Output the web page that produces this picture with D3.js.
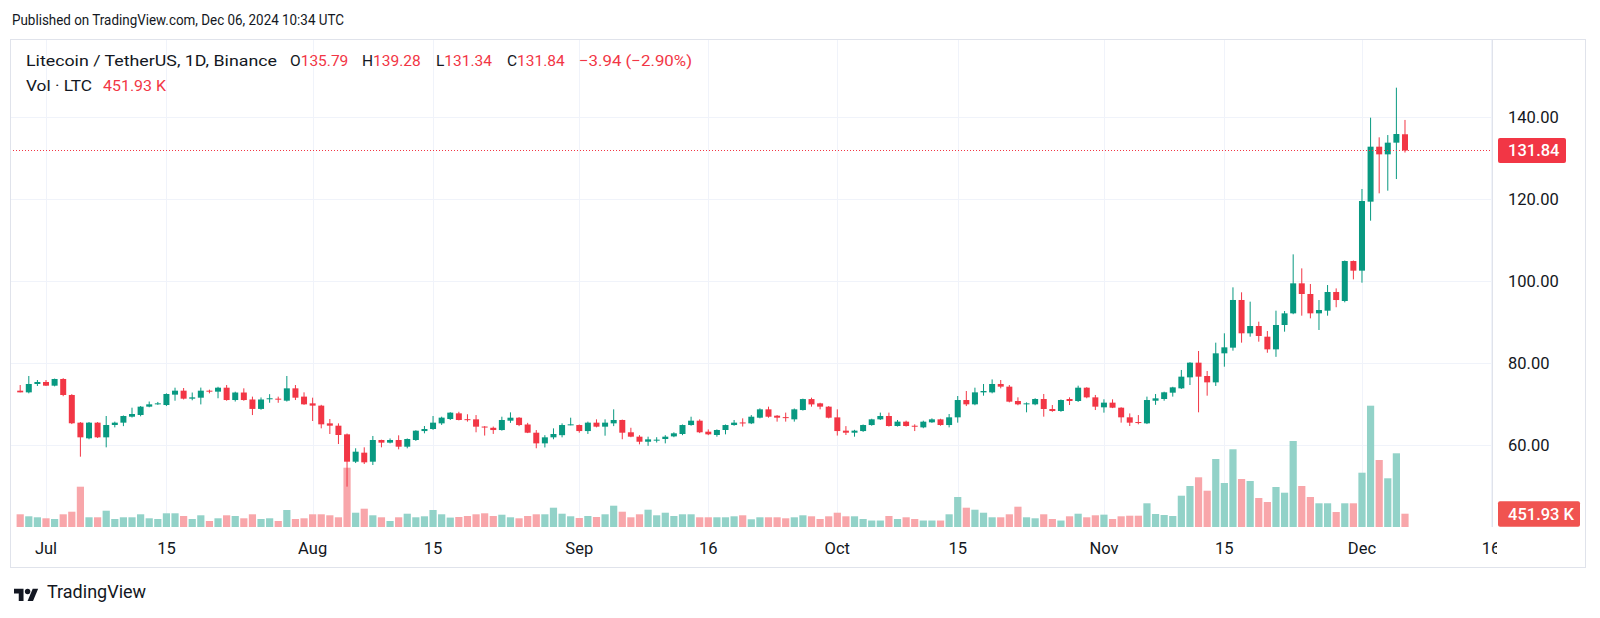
<!DOCTYPE html>
<html><head><meta charset="utf-8">
<script src="https://cdn.jsdelivr.net/npm/d3@7"></script>
<style>
body{margin:0;background:#fff;}
svg{display:block;font-family:Roboto,"Noto Sans",sans-serif;}
</style>
</head><body>
<svg id="chart" width="1600" height="618"></svg>
<script>
// ---- data (daily candles Jun 28 2024 .. Dec 06 2024) ----
const firstDay = "2024-06-28";
const lastDay = "2024-12-06";
const open = [
73.25,72.84,74.88,75.37,74.47,76.10,72.20,65.45,61.63,65.45,
61.87,64.88,65.45,66.90,67.32,69.35,69.95,69.75,72.28,73.25,
71.30,71.54,73.25,73.01,73.98,70.97,72.80,71.10,68.80,71.30,
71.30,70.81,73.82,71.80,70.16,69.60,65.28,64.71,62.60,55.93,
58.13,55.93,61.22,60.57,61.22,59.59,61.22,63.40,63.90,65.28,
66.34,67.72,66.30,66.26,64.50,64.20,63.65,65.93,66.66,65.00,
63.00,60.40,61.87,62.40,64.87,64.87,63.40,65.45,64.47,65.28,
66.10,63.10,62.03,60.80,61.20,61.46,62.10,62.68,64.87,65.93,
63.25,62.44,63.66,64.87,65.50,65.28,66.66,68.70,67.15,66.80,
66.26,68.53,71.20,70.16,69.35,66.74,63.50,63.00,63.40,64.87,
66.26,67.07,64.63,65.69,64.70,64.30,65.53,66.26,64.87,66.75,
70.97,69.92,72.84,72.84,74.88,74.23,70.73,70.00,69.92,71.22,
68.78,68.29,71.22,70.73,73.98,71.62,69.19,70.33,69.10,66.75,
65.60,65.28,70.80,71.22,72.76,73.82,76.50,80.08,76.83,75.28,
82.36,83.74,95.37,87.24,89.02,86.42,83.33,89.27,92.11,99.43,
96.83,92.11,92.76,97.32,95.12,104.87,102.52,119.35,132.76,130.89,
133.74,135.79];
const high = [
74.63,76.83,75.85,75.85,76.20,76.30,72.40,65.60,65.60,65.60,
67.07,65.70,67.20,69.10,69.50,70.60,70.50,72.60,73.98,73.90,
72.80,74.00,73.50,74.20,74.63,73.00,73.82,71.80,71.60,72.40,
71.80,76.83,74.63,72.84,71.54,69.80,66.34,65.28,62.80,59.20,
59.43,62.20,61.30,61.60,62.36,61.60,63.60,64.63,67.07,66.90,
68.00,68.10,67.50,67.30,64.60,64.50,66.90,67.96,66.80,65.40,
63.65,62.40,64.06,65.28,66.66,65.00,65.70,66.26,66.26,68.70,
66.20,64.20,62.40,62.03,61.90,62.40,63.10,65.00,66.90,66.26,
63.80,63.80,65.00,66.10,66.50,67.30,68.94,69.35,67.30,67.90,
68.90,71.30,71.54,70.30,69.50,68.70,64.60,63.70,65.00,66.40,
67.90,67.90,66.10,65.93,65.04,65.93,66.50,66.40,67.56,71.95,
73.17,73.98,74.88,76.00,75.85,74.63,71.62,70.40,71.40,72.44,
69.75,71.10,71.62,74.47,74.10,72.20,71.14,71.14,69.20,67.70,
67.30,71.80,72.44,73.00,74.20,78.30,80.20,82.93,78.05,84.96,
87.24,98.45,97.24,94.96,90.08,87.80,92.76,92.68,106.50,103.08,
99.27,95.36,99.02,98.20,105.00,105.00,122.44,139.83,135.04,135.60,
147.15,139.28];
const low = [
72.84,72.60,74.40,74.40,74.30,71.90,65.10,57.15,61.40,61.70,
59.43,64.30,64.60,66.70,67.00,69.20,69.80,69.50,70.80,71.10,
70.90,69.90,72.60,71.40,70.80,70.60,70.80,67.30,68.60,70.30,
70.30,70.60,70.97,69.80,65.85,64.06,62.68,60.24,49.84,55.60,
55.36,55.12,59.43,60.40,58.94,59.19,61.00,62.85,63.70,64.90,
66.10,66.00,65.70,63.10,62.30,62.70,63.50,65.40,64.60,62.90,
59.20,59.40,61.40,61.87,64.80,63.00,62.70,64.30,62.27,64.60,
61.40,61.90,60.16,59.80,60.60,60.40,61.90,62.40,64.70,62.90,
62.40,62.03,62.60,64.70,64.50,65.10,66.50,66.66,65.70,65.70,
65.70,68.40,69.35,68.70,66.50,62.30,62.44,62.03,63.20,64.70,
66.10,64.50,64.50,64.50,63.40,64.10,65.40,64.70,64.30,65.45,
69.50,69.70,72.03,72.60,73.82,70.40,69.70,67.97,69.70,66.91,
68.10,68.10,69.75,70.50,71.40,68.53,67.89,69.00,65.45,64.63,
65.04,65.10,69.80,70.80,71.80,73.66,74.63,67.97,72.03,74.40,
79.10,83.00,84.96,86.42,85.20,82.50,81.50,87.64,91.90,91.54,
90.89,88.05,91.54,93.60,94.80,100.40,99.59,114.71,121.38,122.03,
124.87,131.34];
const close = [
72.84,74.88,75.37,74.47,76.10,72.20,65.30,61.87,65.45,61.87,
64.88,65.45,67.07,67.56,69.35,69.92,70.16,72.44,73.25,71.30,
71.62,73.25,73.01,73.98,70.97,72.80,70.97,68.80,71.10,71.40,
71.10,73.82,71.54,69.92,69.60,65.04,64.71,62.44,55.93,58.37,
55.77,61.22,60.57,61.22,59.59,61.46,63.49,63.90,65.45,66.67,
67.89,66.10,66.20,64.47,64.40,63.65,66.10,66.66,64.87,63.00,
60.40,61.87,62.68,64.87,65.04,63.40,65.45,64.47,65.45,66.10,
63.00,62.03,60.80,61.38,61.30,62.03,62.85,64.87,65.93,63.10,
62.60,63.66,64.87,65.45,65.40,66.90,68.70,66.90,66.66,66.74,
68.70,71.20,69.90,69.35,66.66,63.40,63.00,63.50,64.87,66.26,
67.07,64.63,65.70,64.63,64.60,65.69,66.26,64.87,66.75,70.97,
69.92,72.84,73.17,74.88,74.23,70.57,69.92,70.16,71.22,68.78,
68.29,70.97,70.73,73.98,71.62,69.35,70.33,69.10,66.75,65.45,
65.50,70.97,71.38,72.85,74.06,76.67,80.08,76.67,75.28,82.36,
83.82,95.37,87.24,89.02,86.59,83.33,89.27,92.11,99.43,96.83,
92.11,92.92,97.32,95.36,104.87,102.52,119.51,132.76,130.89,133.74,
135.85,131.84];
const volumeK = [
432,364,330,296,272,432,520,1370,330,330,
554,272,330,330,432,296,272,466,466,374,
272,398,204,296,398,374,296,432,272,296,
204,578,272,296,432,432,398,330,2016,486,
622,398,330,204,330,452,330,364,578,432,
320,340,374,432,466,374,418,330,296,374,
432,432,656,452,364,306,374,340,432,724,
520,330,432,588,398,486,374,432,432,330,
330,330,330,364,398,262,330,330,330,296,
330,398,364,272,364,486,364,364,272,220,
220,374,272,330,272,220,220,220,432,1020,
656,588,486,330,330,432,690,330,296,432,
272,220,364,452,330,398,420,272,364,384,
384,806,442,408,374,1064,1394,1690,1234,2312,
1496,2642,1632,1564,986,850,1360,1166,2924,1394,
1020,806,806,510,806,806,1846,4124,2278,1656,
2506,451.93];
const priceTicks = [60, 80, 100, 120, 140];
const timeTickDates = ["2024-07-01","2024-07-15","2024-08-01","2024-08-15","2024-09-01","2024-09-16",
                       "2024-10-01","2024-10-15","2024-11-01","2024-11-15","2024-12-01","2024-12-16"];
const timeTickLabels = ["Jul","15","Aug","15","Sep","16","Oct","15","Nov","15","Dec","16"];
const lastPrice = 131.84;
const lastVolumeLabel = "451.93 K";

// ---- layout ----
const W = 1600, H = 618;
const panel = {left: 10, top: 39, right: 1585, bottom: 567};
const plotRight = 1492, plotBottom = 527;
const GREEN = "#089981", RED = "#F23645", TXT = "#131722";
const VGREEN = "#92d2c8", VRED = "#f8a6aa";
const AXF = 16.5;

const parse = d3.utcParse("%Y-%m-%d");
const days = d3.utcDay.range(parse(firstDay), d3.utcDay.offset(parse(lastDay), 1));
const data = days.map((d, i) => ({date: d, o: open[i], h: high[i], l: low[i], c: close[i], v: volumeK[i]}));

const x = d3.scaleUtc().domain([parse("2024-07-01"), parse("2024-12-16")]).range([46, 1491]);
const y = d3.scaleLinear().domain([60, 140]).range([445, 117]);
const yv = d3.scaleLinear().domain([0, d3.max(volumeK)]).range([plotBottom, plotBottom - 121.3]);

const svg = d3.select("#chart");
svg.append("rect").attr("width", W).attr("height", H).attr("fill", "#fff");

// panel frame
svg.append("rect").attr("x", panel.left + 0.5).attr("y", panel.top + 0.5)
  .attr("width", panel.right - panel.left).attr("height", panel.bottom - panel.top)
  .attr("fill", "none").attr("stroke", "#e0e3eb").attr("stroke-width", 1);

const defs = svg.append("defs");
defs.append("clipPath").attr("id", "plotclip")
  .append("rect").attr("x", panel.left + 1).attr("y", panel.top + 1)
  .attr("width", plotRight - panel.left - 1).attr("height", plotBottom - panel.top - 1);

const grid = svg.append("g").attr("clip-path", "url(#plotclip)");
grid.selectAll("line.h").data(priceTicks).join("line")
  .attr("x1", panel.left).attr("x2", plotRight)
  .attr("y1", d => Math.round(y(d)) + 0.5).attr("y2", d => Math.round(y(d)) + 0.5)
  .attr("stroke", "#f0f3fa").attr("stroke-width", 1);
grid.selectAll("line.v").data(timeTickDates).join("line")
  .attr("x1", d => Math.round(x(parse(d))) + 0.5).attr("x2", d => Math.round(x(parse(d))) + 0.5)
  .attr("y1", panel.top).attr("y2", plotBottom)
  .attr("stroke", "#f0f3fa").attr("stroke-width", 1);

// price axis separator
svg.append("line").attr("x1", plotRight + 0.5).attr("x2", plotRight + 0.5)
  .attr("y1", panel.top).attr("y2", plotBottom).attr("stroke", "#e0e3eb");

const plot = svg.append("g").attr("clip-path", "url(#plotclip)");

// volume
plot.selectAll("rect.vol").data(data).join("rect")
  .attr("x", d => x(d.date) - 3.6).attr("width", 7.2)
  .attr("y", d => yv(d.v)).attr("height", d => plotBottom - yv(d.v))
  .attr("fill", d => d.c >= d.o ? VGREEN : VRED);

// candles
const cg = plot.selectAll("g.c").data(data).join("g");
cg.append("line")
  .attr("x1", d => x(d.date)).attr("x2", d => x(d.date))
  .attr("y1", d => y(d.h)).attr("y2", d => y(d.l))
  .attr("stroke", d => d.c >= d.o ? GREEN : RED).attr("stroke-width", 1);
cg.append("rect")
  .attr("x", d => x(d.date) - 3).attr("width", 6)
  .attr("y", d => y(Math.max(d.o, d.c)))
  .attr("height", d => Math.max(1, Math.abs(y(d.o) - y(d.c))))
  .attr("fill", d => d.c >= d.o ? GREEN : RED);

// last price dotted line
plot.append("line").attr("x1", panel.left).attr("x2", plotRight)
  .attr("y1", Math.round(y(lastPrice)) + 0.5).attr("y2", Math.round(y(lastPrice)) + 0.5)
  .attr("stroke", RED).attr("stroke-width", 1).attr("stroke-dasharray", "1,2");

// price axis labels
svg.selectAll("text.p").data(priceTicks).join("text")
  .attr("x", 1508).attr("y", d => y(d) + 6)
  .attr("font-size", AXF).attr("fill", TXT).text(d => d3.format(".2f")(d));

// last price tag
const ly = y(lastPrice);
svg.append("rect").attr("x", 1498).attr("y", ly - 12.5).attr("width", 68).attr("height", 25)
  .attr("rx", 2).attr("fill", RED);
svg.append("text").attr("x", 1508).attr("y", ly + 6).attr("font-size", AXF).attr("font-weight", 500)
  .attr("fill", "#fff").text(d3.format(".2f")(lastPrice));

// volume tag
const vy = yv(volumeK[volumeK.length - 1]);
svg.append("rect").attr("x", 1498).attr("y", vy - 12.5).attr("width", 82).attr("height", 25.5)
  .attr("rx", 2).attr("fill", "#f05350");
svg.append("text").attr("x", 1508).attr("y", vy + 6).attr("font-size", AXF).attr("font-weight", 500)
  .attr("fill", "#fff").text(lastVolumeLabel);

// time axis labels
defs.append("clipPath").attr("id", "timeclip")
  .append("rect").attr("x", panel.left).attr("y", plotBottom).attr("width", 1497 - panel.left).attr("height", 40);
svg.append("g").attr("clip-path", "url(#timeclip)")
  .selectAll("text").data(timeTickDates).join("text")
  .attr("x", d => x(parse(d))).attr("y", 554).attr("text-anchor", "middle")
  .attr("font-size", AXF).attr("fill", TXT).text((d, i) => timeTickLabels[i]);

// header
svg.append("text").attr("x", 12).attr("y", 25).attr("font-size", 14.5).attr("fill", TXT)
  .attr("textLength", 332).attr("lengthAdjust", "spacingAndGlyphs")
  .text("Published on TradingView.com, Dec 06, 2024 10:34 UTC");

function seg(yy, xx, t, c, len) {
  const e = svg.append("text").attr("x", xx).attr("y", yy).attr("font-size", 15.5).attr("fill", c).text(t);
  if (len) e.attr("textLength", len).attr("lengthAdjust", "spacingAndGlyphs");
  return e;
}
seg(66, 26, "Litecoin / TetherUS, 1D, Binance", TXT, 251);
const ohlc = [["O", "135.79", 290], ["H", "139.28", 362], ["L", "131.34", 436], ["C", "131.84", 507]];
ohlc.forEach(([k, v, xx]) => {
  const t = svg.append("text").attr("x", xx).attr("y", 66).attr("font-size", 15.5);
  t.append("tspan").attr("fill", TXT).text(k);
  t.append("tspan").attr("fill", RED).text(v);
});
seg(66, 579, "\u22123.94 (\u22122.90%)", RED, 113);
seg(91, 26, "Vol \u00b7 LTC", TXT, 66);
seg(91, 103, lastVolumeLabel, RED, 63);

// TradingView logo
const logo = svg.append("g").attr("transform", "translate(14,586) scale(0.68)").attr("fill", TXT);
logo.append("path").attr("d", "M14 22H7V11H0V4h14v18z");
logo.append("circle").attr("cx", 20).attr("cy", 8).attr("r", 4);
logo.append("path").attr("d", "M28 22h-8l7.5-18h8L28 22z");
svg.append("text").attr("x", 47).attr("y", 598).attr("font-size", 18).attr("fill", TXT).text("TradingView");
</script>
</body></html>
